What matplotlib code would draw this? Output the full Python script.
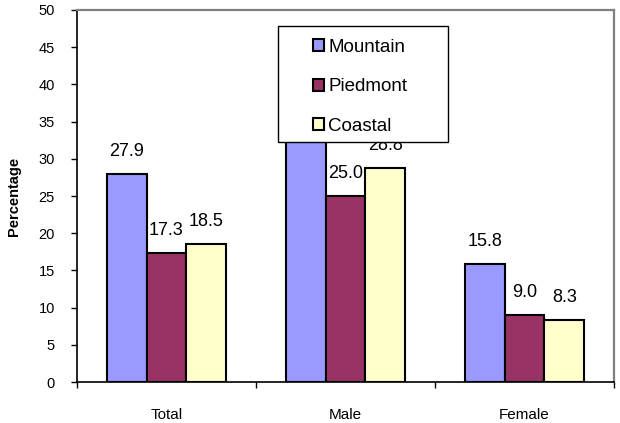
import matplotlib.pyplot as plt
from matplotlib.patches import Rectangle
import numpy as np

groups = ["Total", "Male", "Female"]
regions = ["Mountain", "Piedmont", "Coastal"]
mountain = [27.9, 36.5, 15.8]  # male value hidden behind legend in the source
piedmont = [17.3, 25.0, 9.0]
coastal = [18.5, 28.8, 8.3]
colors = ["#9999ff", "#993366", "#ffffcc"]

plt.rcParams["font.family"] = ["Liberation Sans", "DejaVu Sans"]

W, H = 620, 423
L, R, T, B = 77, 614, 10, 382
fig = plt.figure(figsize=(W / 100, H / 100), dpi=100)
ax = fig.add_axes([L / W, 1 - B / H, (R - L) / W, (B - T) / H])

x = np.arange(len(groups))
w = 0.222
series = [mountain, piedmont, coastal]
for i, (vals, c, name) in enumerate(zip(series, colors, regions)):
    pos = x + (i - 1) * w
    ax.bar(pos, vals, width=w, color=c, edgecolor="black", linewidth=1.5,
           label=name, zorder=2)
    for xp, v in zip(pos, vals):
        ax.text(xp, v + 1.9, f"{v:.1f}", ha="center", va="bottom", fontsize=13,
                zorder=3)

ax.set_xlim(-0.5, 2.5)
ax.set_ylim(0, 50)
ax.set_yticks(np.arange(0, 51, 5))
ax.set_xticks([-0.5, 0.5, 1.5, 2.5], minor=False)
ax.set_xticklabels([])
ax.set_xticks(x, minor=True)
ax.set_xticklabels(groups, minor=True)
ax.tick_params(axis="x", which="minor", length=0, pad=19, labelsize=11)
ax.tick_params(axis="x", which="major", length=4, direction="out", width=1)
ax.tick_params(axis="y", length=4, direction="out", labelsize=10.5, width=1, pad=12)
ax.set_ylabel("Percentage", fontweight="bold", fontsize=10.5)
ax.yaxis.set_label_coords(-(L - 21) / (R - L), 0.5)

for s in ["top", "right"]:
    ax.spines[s].set_color("#808080")
    ax.spines[s].set_linewidth(1.6)
for s in ["left", "bottom"]:
    ax.spines[s].set_color("black")
    ax.spines[s].set_linewidth(1.2)

# legend box drawn by hand: the source box is much wider than its entries
def ax_xy(px, py):
    return (px - L) / (R - L), (B - py) / (B - T)

bx0, by0 = ax_xy(278, 142)
bx1, by1 = ax_xy(448, 26)
ax.add_patch(Rectangle((bx0, by0), bx1 - bx0, by1 - by0, transform=ax.transAxes,
                       facecolor="white", edgecolor="black", linewidth=1.0,
                       zorder=4))
lx, ly = ax_xy(313, 39)
leg = ax.legend(loc="upper left", bbox_to_anchor=(lx, ly), frameon=False,
                fontsize=13.5, handlelength=0.6, handleheight=0.6,
                handletextpad=0.2, labelspacing=1.2, borderpad=0,
                borderaxespad=0)
leg.set_zorder(5)

fig.savefig("out.png", dpi=100)
